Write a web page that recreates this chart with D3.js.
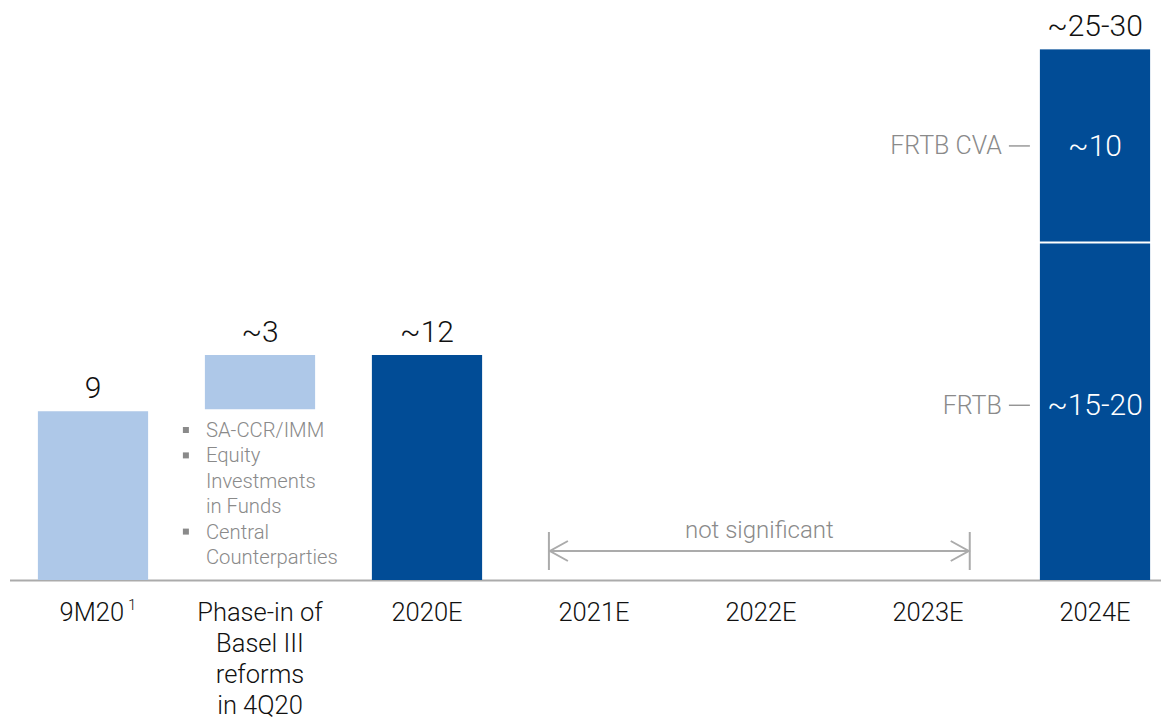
<!DOCTYPE html>
<html>
<head>
<meta charset="utf-8">
<script src="https://cdn.jsdelivr.net/npm/d3@7"></script>
<style>
  html, body { margin: 0; padding: 0; background: #fff; }
  svg { display: block; font-family: Roboto, "Liberation Sans", Arial, sans-serif; font-weight: 300; }
</style>
</head>
<body>
<svg id="chart" width="1161" height="720"></svg>
<script>
// RWA inflation, categories along the x axis
const categories = ["9M20", "Phase-in", "2020E", "2021E", "2022E", "2023E", "2024E"];
const categoryLines = [
  ["9M20"],
  ["Phase-in of", "Basel III", "reforms", "in 4Q20"],
  ["2020E"], ["2021E"], ["2022E"], ["2023E"], ["2024E"]
];
const footnoteMarks = ["1", "", "", "", "", "", ""];

// Simple bars: start and end values (the phase-in bar floats on top of 9M20)
const barCategories = ["9M20", "Phase-in", "2020E"];
const barStarts = [0, 9, 0];
const barEnds = [9, 12, 12];
const barLabels = ["9", "~3", "~12"];

// Stacked 2024E bar
const stackCategory = "2024E";
const stackSegments = ["FRTB", "FRTB CVA"];
const stackValues = [18, 10.3];
const stackLabels = ["~15-20", "~10"];
const stackTotalLabel = "~25-30";

// Bullet notes under the phase-in bar
const noteLines = ["SA-CCR/IMM", "Equity", "Investments", "in Funds", "Central", "Counterparties"];
const noteBullets = [true, true, false, false, true, false];

// Span with no significant impact
const spanFrom = "2021E";
const spanTo = "2023E";
const spanLabel = "not significant";

const LIGHT = "#aec8e8";
const DARK = "#014c96";
const GREY = "#8a8a8a";
const LINE = "#ababab";

const svg = d3.select("#chart");

const x = d3.scaleBand()
  .domain(categories)
  .range([9.5, 1178.5])
  .paddingInner(0.34)
  .paddingOuter(0.17);

const y = d3.scaleLinear()
  .domain([0, 30])
  .range([580, 17.5]);

const fillFor = d3.scaleOrdinal()
  .domain(["9M20", "Phase-in", "2020E", "2024E"])
  .range([LIGHT, LIGHT, DARK, DARK]);

// Axis with baseline
const axis = svg.append("g")
  .attr("transform", `translate(0,${y(0)})`)
  .call(d3.axisBottom(x).tickSize(0).tickFormat(""));
axis.select(".domain").attr("stroke", LINE).attr("stroke-width", 2);

// Simple bars
const bars = barCategories.map((c, i) => ({ c, s: barStarts[i], e: barEnds[i], label: barLabels[i] }));
svg.append("g").selectAll("rect")
  .data(bars)
  .join("rect")
  .attr("x", d => x(d.c))
  .attr("width", x.bandwidth())
  .attr("y", d => y(d.e))
  .attr("height", d => y(d.s) - y(d.e) - (d.s > 0 ? 2 : 0))
  .attr("fill", d => fillFor(d.c));

svg.append("g").selectAll("text")
  .data(bars)
  .join("text")
  .attr("x", d => x(d.c) + x.bandwidth() / 2)
  .attr("y", d => y(d.e) - 13)
  .attr("text-anchor", "middle")
  .attr("font-size", 30)
  .attr("fill", "#111")
  .text(d => d.label);

// Stacked bar
let acc = 0;
const stack = stackSegments.map((name, i) => {
  const seg = { name, s: acc, e: acc + stackValues[i], label: stackLabels[i] };
  acc += stackValues[i];
  return seg;
});
const sx = x(stackCategory);
const sg = svg.append("g");
sg.selectAll("rect")
  .data(stack)
  .join("rect")
  .attr("x", sx)
  .attr("width", x.bandwidth())
  .attr("y", d => y(d.e) + (d.s > 0 ? 0 : 1))
  .attr("height", d => y(d.s) - y(d.e) - 1)
  .attr("fill", fillFor(stackCategory));

const midY = d => (y(d.s) + y(d.e)) / 2 - (d.s > 0 ? 0 : 6);

sg.selectAll("text.inner")
  .data(stack)
  .join("text")
  .attr("class", "inner")
  .attr("x", sx + x.bandwidth() / 2)
  .attr("y", d => midY(d) + 10)
  .attr("text-anchor", "middle")
  .attr("font-size", 30)
  .attr("fill", "#fff")
  .text(d => d.label);

// Segment names with leader dashes left of the stacked bar
sg.selectAll("text.side")
  .data(stack)
  .join("text")
  .attr("class", "side")
  .attr("x", sx - 38)
  .attr("y", d => midY(d) + 8.5)
  .attr("text-anchor", "end")
  .attr("font-size", 25)
  .attr("fill", GREY)
  .text(d => d.name);
sg.selectAll("line.side")
  .data(stack)
  .join("line")
  .attr("class", "side")
  .attr("x1", sx - 31)
  .attr("x2", sx - 10)
  .attr("y1", d => midY(d))
  .attr("y2", d => midY(d))
  .attr("stroke", GREY)
  .attr("stroke-width", 1.3);

sg.append("text")
  .attr("x", sx + x.bandwidth() / 2)
  .attr("y", y(acc) - 13)
  .attr("text-anchor", "middle")
  .attr("font-size", 30)
  .attr("fill", "#111")
  .text(stackTotalLabel);

// Category labels
const labels = svg.append("g").selectAll("text")
  .data(categories)
  .join("text")
  .attr("x", d => x(d) + x.bandwidth() / 2)
  .attr("y", y(0) + 41)
  .attr("text-anchor", "middle")
  .attr("font-size", 25.5)
  .attr("fill", "#111");
labels.each(function (d, i) {
  const t = d3.select(this);
  const cx = x(d) + x.bandwidth() / 2 + (footnoteMarks[i] ? 5 : 0);
  categoryLines[i].forEach((line, j) => {
    t.append("tspan")
      .attr("x", cx)
      .attr("dy", j === 0 ? 0 : 31)
      .text(line);
  });
  if (footnoteMarks[i]) {
    t.append("tspan")
      .attr("dx", 4)
      .attr("dy", -11)
      .attr("font-size", 15)
      .text(footnoteMarks[i]);
  }
});

// Bullet notes
const phaseX = x("Phase-in");
const notes = svg.append("g");
noteLines.forEach((line, i) => {
  const by = 437 + i * 25.4;
  notes.append("text")
    .attr("x", phaseX + 1)
    .attr("y", by)
    .attr("font-size", 20.3)
    .attr("fill", GREY)
    .text(line);
  if (noteBullets[i]) {
    notes.append("rect")
      .attr("x", phaseX - 22)
      .attr("y", by - 10)
      .attr("width", 6)
      .attr("height", 6)
      .attr("fill", GREY);
  }
});

// "not significant" span arrow
const step = x.step();
const ax1 = x(spanFrom) + x.bandwidth() / 2 - 0.27 * step;
const ax2 = x(spanTo) + x.bandwidth() / 2 + 0.25 * step;
const ay = 551;
const span = svg.append("g")
  .attr("stroke", LINE)
  .attr("stroke-width", 2)
  .attr("fill", "none");
span.append("line").attr("x1", ax1).attr("x2", ax2).attr("y1", ay).attr("y2", ay);
span.append("line").attr("x1", ax1).attr("x2", ax1).attr("y1", ay - 19).attr("y2", ay + 19);
span.append("line").attr("x1", ax2).attr("x2", ax2).attr("y1", ay - 19).attr("y2", ay + 19);
span.append("path").attr("d", `M${ax1 + 19},${ay - 10}L${ax1 + 1},${ay}L${ax1 + 19},${ay + 10}`);
span.append("path").attr("d", `M${ax2 - 19},${ay - 10}L${ax2 - 1},${ay}L${ax2 - 19},${ay + 10}`);
svg.append("text")
  .attr("x", (ax1 + ax2) / 2)
  .attr("y", ay - 13)
  .attr("text-anchor", "middle")
  .attr("font-size", 24)
  .attr("fill", GREY)
  .text(spanLabel);
</script>
</body>
</html>
